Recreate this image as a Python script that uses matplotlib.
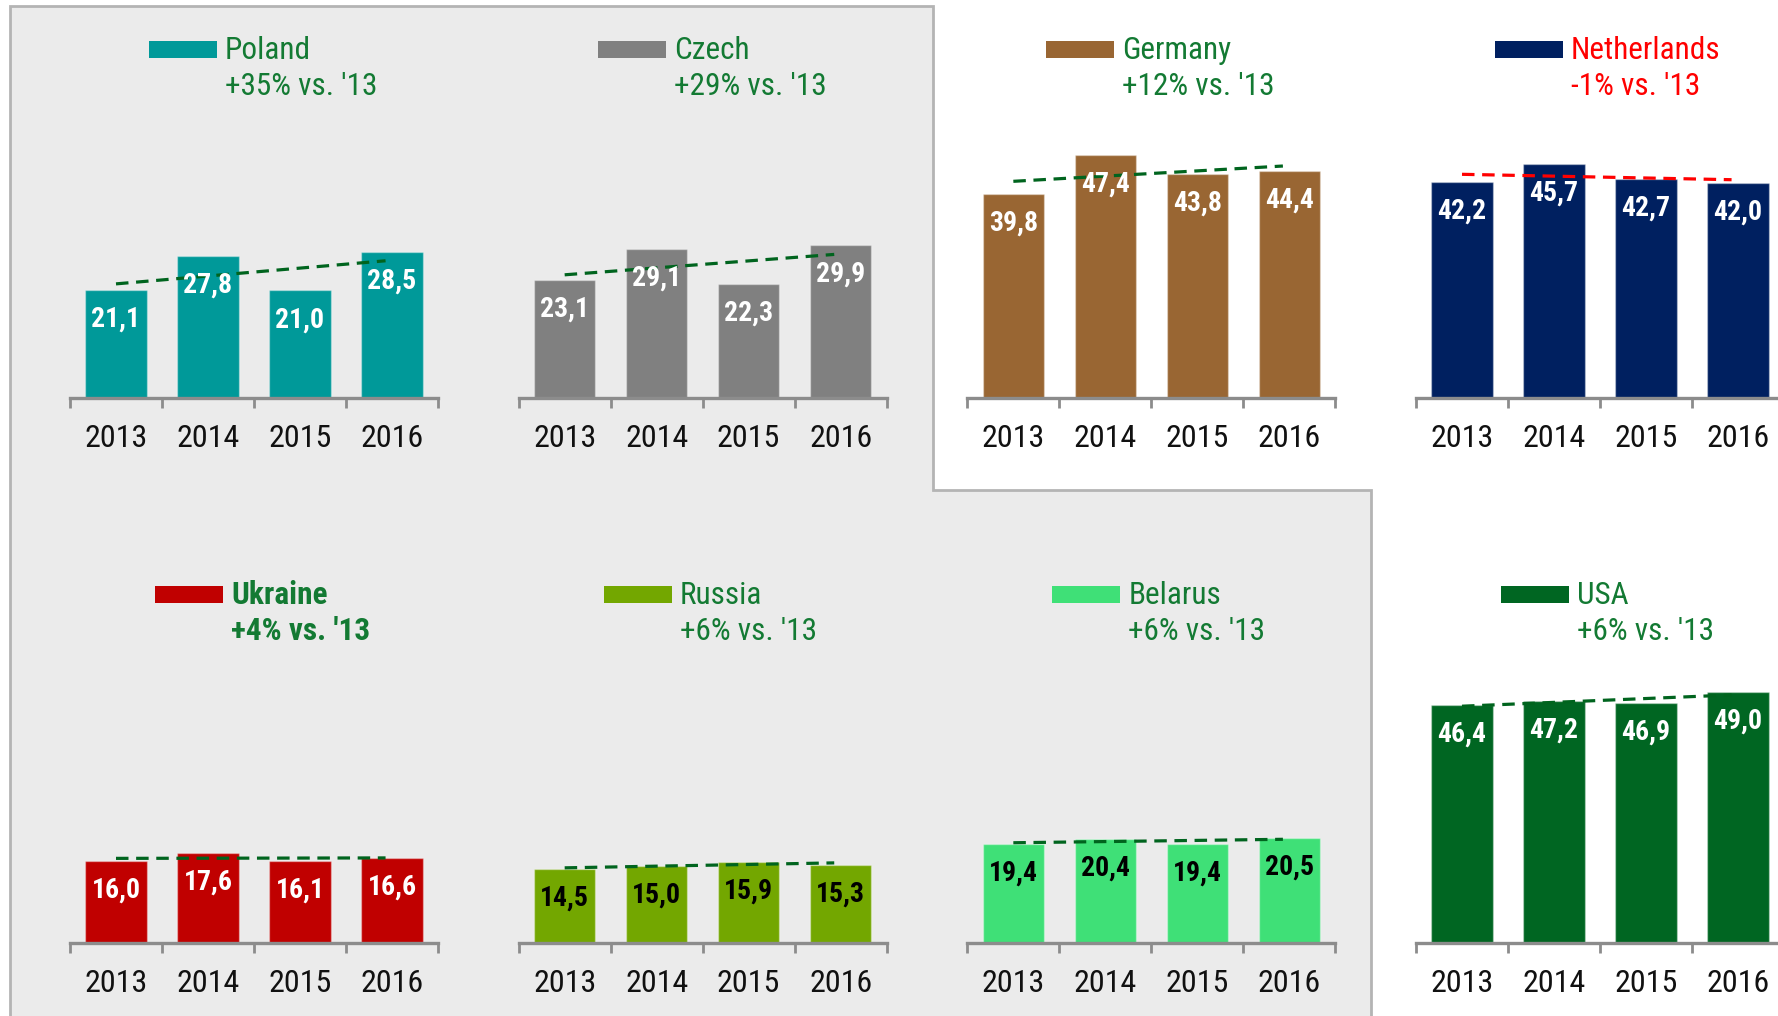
import matplotlib
matplotlib.use("Agg")
import matplotlib.pyplot as plt
from matplotlib import font_manager
from matplotlib.patches import Polygon, Rectangle
import numpy as np

# ---------------- data ----------------
years = ["2013", "2014", "2015", "2016"]
countries = ["Poland", "Czech", "Germany", "Netherlands",
             "Ukraine", "Russia", "Belarus", "USA"]
poland = [21.1, 27.8, 21.0, 28.5]
czech = [23.1, 29.1, 22.3, 29.9]
germany = [39.8, 47.4, 43.8, 44.4]
netherlands = [42.2, 45.7, 42.7, 42.0]
ukraine = [16.0, 17.6, 16.1, 16.6]
russia = [14.5, 15.0, 15.9, 15.3]
belarus = [19.4, 20.4, 19.4, 20.5]
usa = [46.4, 47.2, 46.9, 49.0]
changes = ["+35% vs. '13", "+29% vs. '13", "+12% vs. '13", "-1% vs. '13",
           "+4% vs. '13", "+6% vs. '13", "+6% vs. '13", "+6% vs. '13"]
series = [poland, czech, germany, netherlands, ukraine, russia, belarus, usa]

bar_colors = ["#009999", "#808080", "#996633", "#002060",
              "#C00000", "#73A700", "#3FE077", "#006622"]
value_colors = ["white", "white", "white", "white", "white", "black", "black", "white"]
title_colors = ["#137A33", "#137A33", "#137A33", "#FF0000",
                "#137A33", "#137A33", "#137A33", "#137A33"]
title_bold = [False, False, False, False, True, False, False, False]
trend_colors = ["#00641E", "#00641E", "#00641E", "#FF0000",
                "#00641E", "#00641E", "#00641E", "#00641E"]

# ---------------- fonts ----------------
def pick_font(cands):
    for c in cands:
        try:
            font_manager.findfont(c, fallback_to_default=False)
            return c
        except Exception:
            pass
    return "DejaVu Sans"

FONT = pick_font(["Liberation Sans Narrow", "Arial Narrow", "Roboto Condensed",
                  "DejaVu Sans Condensed", "Liberation Sans"])
plt.rcParams["font.family"] = [FONT, "DejaVu Sans"]
plt.rcParams["lines.scale_dashes"] = False

W, H = 1778, 1016
fig = plt.figure(figsize=(W / 100, H / 100), dpi=100)
fig.patch.set_facecolor("white")

def fx(x):
    return x / W

def fy(y):
    return 1 - y / H

# gray background region
pts = [(10, 6), (933, 6), (933, 490), (1371, 490), (1371, H + 10), (10, H + 10)]
bg = Polygon([(fx(x), fy(y)) for x, y in pts], closed=True,
             facecolor="#EBEBEB", edgecolor="#B4B4B4", linewidth=2,
             transform=fig.transFigure, zorder=-5)
fig.patches.append(bg)

PX_PER_UNIT = 5.12
AX_W = 368
AX_H = 320
col_x0 = [70 + 448.67 * c for c in range(4)]
row_y = [398, 943]

for i, vals in enumerate(series):
    r, c = divmod(i, 4)
    x0 = col_x0[c]
    yb = row_y[r]
    ax = fig.add_axes([fx(x0), fy(yb), AX_W / W, AX_H / H])
    ax.set_zorder(5)
    ax.set_facecolor("none")
    ax.patch.set_alpha(0)
    xs = np.arange(len(years))
    ax.bar(xs, vals, width=0.67, color=bar_colors[i],
           edgecolor=(1, 1, 1, 0.35), linewidth=1, zorder=2)
    ax.set_xlim(-0.5, 3.5)
    ax.set_ylim(0, AX_H / PX_PER_UNIT)
    for s in ["top", "right", "left"]:
        ax.spines[s].set_visible(False)
    ax.spines["bottom"].set_color("#8C8C8C")
    ax.spines["bottom"].set_linewidth(2.4)
    ax.set_yticks([])
    ax.set_xticks(xs, years)
    ax.set_xticks(np.arange(-0.5, 4.0, 1.0), minor=True)
    ax.tick_params(axis="x", which="major", length=0, pad=19,
                   labelsize=23, labelcolor="#111111")
    ax.tick_params(axis="x", which="minor", length=7, width=2,
                   color="#8C8C8C", direction="out")

    # value labels
    for x, v in zip(xs, vals):
        ax.annotate(f"{v:.1f}".replace(".", ","), (x, v), xytext=(0, -21),
                    textcoords="offset points", ha="center", va="center",
                    fontsize=20, fontweight="bold", color=value_colors[i],
                    zorder=4)

    # linear trend line
    k, b = np.polyfit(xs, vals, 1)
    tx = np.array([0.0, 2.93])
    ax.plot(tx, k * tx + b, color=trend_colors[i], linewidth=2.3,
            dashes=(9, 5.5), zorder=3, solid_capstyle="butt",
            dash_capstyle="butt")

    # legend-like title
    off = 0 if r == 0 else 6
    px0 = x0 + 79 + off
    fig.patches.append(Rectangle((fx(px0), fy(yb - 340)), 68 / W, 17 / H,
                                 facecolor=bar_colors[i], edgecolor="none",
                                 transform=fig.transFigure, zorder=1))
    tx0 = x0 + 155 + off
    fw = "bold" if title_bold[i] else "normal"
    fig.text(fx(tx0), fy(yb - 339), countries[i], fontsize=22.5,
             color=title_colors[i], ha="left", va="baseline", fontweight=fw)
    fig.text(fx(tx0), fy(yb - 303), changes[i], fontsize=22.5,
             color=title_colors[i], ha="left", va="baseline", fontweight=fw)

fig.savefig("out.png", dpi=100, facecolor="white")
